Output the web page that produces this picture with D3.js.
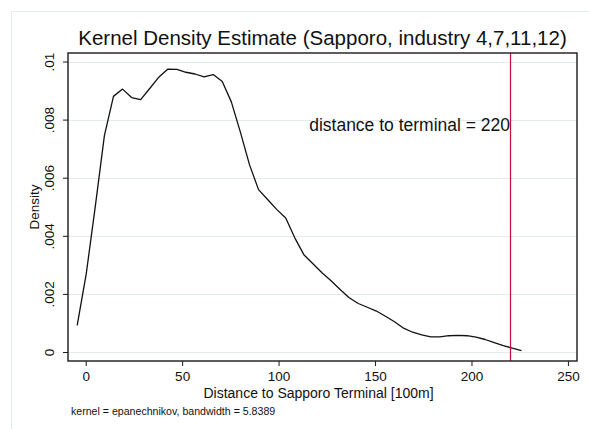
<!DOCTYPE html>
<html lang="en">
<head>
<meta charset="utf-8">
<title>Kernel Density Estimate</title>
<script src="https://cdn.jsdelivr.net/npm/d3@7"></script>
<style>
  body { margin: 0; background: #fff; }
  svg { display: block; font-family: "Liberation Sans", Arial, Helvetica, sans-serif; }
</style>
</head>
<body>
<script>
// density evaluated at 50 points from min to max (Stata kdensity default)
const xMin = -4.4, xMax = 225.9;
const densityValues = [
  0.00092, 0.00270, 0.00502, 0.00745, 0.00880, 0.00905, 0.00876, 0.00869, 0.00907, 0.00946,
  0.00974, 0.00973, 0.00963, 0.00957, 0.00947, 0.00955, 0.00931, 0.00861, 0.00757, 0.00645,
  0.00559, 0.00525, 0.00491, 0.00461, 0.00393, 0.00335, 0.00304, 0.00273, 0.00245, 0.00215,
  0.00187, 0.00167, 0.00154, 0.00141, 0.00123, 0.00104, 0.00082, 0.00068, 0.00059, 0.00052,
  0.00052, 0.00056, 0.00057, 0.00056, 0.00051, 0.00043, 0.00032, 0.00022, 0.00013, 0.00005
];
const xTicks = [0, 50, 100, 150, 200, 250];
const yTicks = [0, 0.002, 0.004, 0.006, 0.008, 0.01];
const terminalDistance = 220;

const titleText = "Kernel Density Estimate (Sapporo, industry 4,7,11,12)";
const xTitle = "Distance to Sapporo Terminal [100m]";
const yTitle = "Density";
const noteText = "kernel = epanechnikov, bandwidth = 5.8389";
const lineLabel = "distance to terminal = " + terminalDistance;

const step = (xMax - xMin) / (densityValues.length - 1);
const points = densityValues.map((d, i) => [xMin + i * step, d]);

const w = 589, h = 429;
const plotL = 68, plotR = 577, plotT = 53, plotB = 361;

const svg = d3.select("body").append("svg")
  .attr("width", w)
  .attr("height", h);

// outer graph region border (light)
svg.append("path")
  .attr("d", `M11.5,${h}V11.5H${w}`)
  .attr("fill", "none")
  .attr("stroke", "#e3eaea")
  .attr("stroke-width", 1);

const x = d3.scaleLinear().domain([-9.17, 254.7]).range([plotL, plotR]);
const y = d3.scaleLinear().domain([-0.00031, 0.010293]).range([plotB, plotT]);

// gridlines
svg.append("g")
  .selectAll("line")
  .data(yTicks)
  .join("line")
  .attr("x1", plotL).attr("x2", plotR)
  .attr("y1", d => Math.round(y(d)) + 0.5)
  .attr("y2", d => Math.round(y(d)) + 0.5)
  .attr("stroke", "#e3eaea")
  .attr("stroke-width", 1);

// density curve
const line = d3.line().x(d => x(d[0])).y(d => y(d[1]));
svg.append("path")
  .datum(points)
  .attr("d", line)
  .attr("fill", "none")
  .attr("stroke", "#111")
  .attr("stroke-width", 1.3)
  .attr("stroke-linejoin", "round");

// vertical line at terminal distance (snapped to pixel for a crisp line)
const xt = Math.round(x(terminalDistance)) + 0.5;
svg.append("line")
  .attr("x1", xt).attr("x2", xt)
  .attr("y1", plotT).attr("y2", plotB)
  .attr("stroke", "#cc0a35")
  .attr("stroke-width", 1.2);

svg.append("text")
  .attr("x", x(terminalDistance))
  .attr("y", y(0.0076))
  .attr("text-anchor", "end")
  .attr("font-size", "17.5px")
  .attr("fill", "#111")
  .text(lineLabel);

// frame
svg.append("rect")
  .attr("x", plotL).attr("y", plotT)
  .attr("width", plotR - plotL).attr("height", plotB - plotT)
  .attr("fill", "none")
  .attr("stroke", "#1a1a1a")
  .attr("stroke-width", 1.4);

// axes
const fmtY = d => d === 0 ? "0" : d3.format(".3~f")(d).replace(/^0/, "");

const xAxis = svg.append("g")
  .attr("transform", `translate(0,${plotB})`)
  .call(d3.axisBottom(x).tickValues(xTicks).tickSize(5).tickPadding(5).tickSizeOuter(0));
xAxis.select(".domain").remove();
xAxis.selectAll("line").attr("stroke", "#1a1a1a");
xAxis.selectAll("text")
  .attr("font-size", "13.5px")
  .attr("font-family", null)
  .attr("fill", "#111");

const yAxis = svg.append("g")
  .attr("transform", `translate(${plotL},0)`)
  .call(d3.axisLeft(y).tickValues(yTicks).tickFormat(fmtY).tickSize(5).tickSizeOuter(0));
yAxis.select(".domain").remove();
yAxis.selectAll("line").attr("stroke", "#1a1a1a");
yAxis.selectAll("text")
  .attr("transform", "rotate(-90)")
  .attr("x", 0)
  .attr("y", -14)
  .attr("dy", 0)
  .attr("text-anchor", "middle")
  .attr("font-size", "13.5px")
  .attr("font-family", null)
  .attr("fill", "#111");

// titles
svg.append("text")
  .attr("x", (plotL + plotR) / 2)
  .attr("y", 45)
  .attr("text-anchor", "middle")
  .attr("font-size", "20.5px")
  .attr("fill", "#111")
  .text(titleText);

svg.append("text")
  .attr("x", (plotL + plotR) / 2 - 4)
  .attr("y", 398)
  .attr("text-anchor", "middle")
  .attr("font-size", "14px")
  .attr("fill", "#111")
  .text(xTitle);

svg.append("text")
  .attr("transform", `translate(39,${(plotT + plotB) / 2}) rotate(-90)`)
  .attr("text-anchor", "middle")
  .attr("font-size", "13.5px")
  .attr("fill", "#111")
  .text(yTitle);

svg.append("text")
  .attr("x", 71)
  .attr("y", 415)
  .attr("font-size", "10.6px")
  .attr("fill", "#111")
  .text(noteText);
</script>
</body>
</html>
